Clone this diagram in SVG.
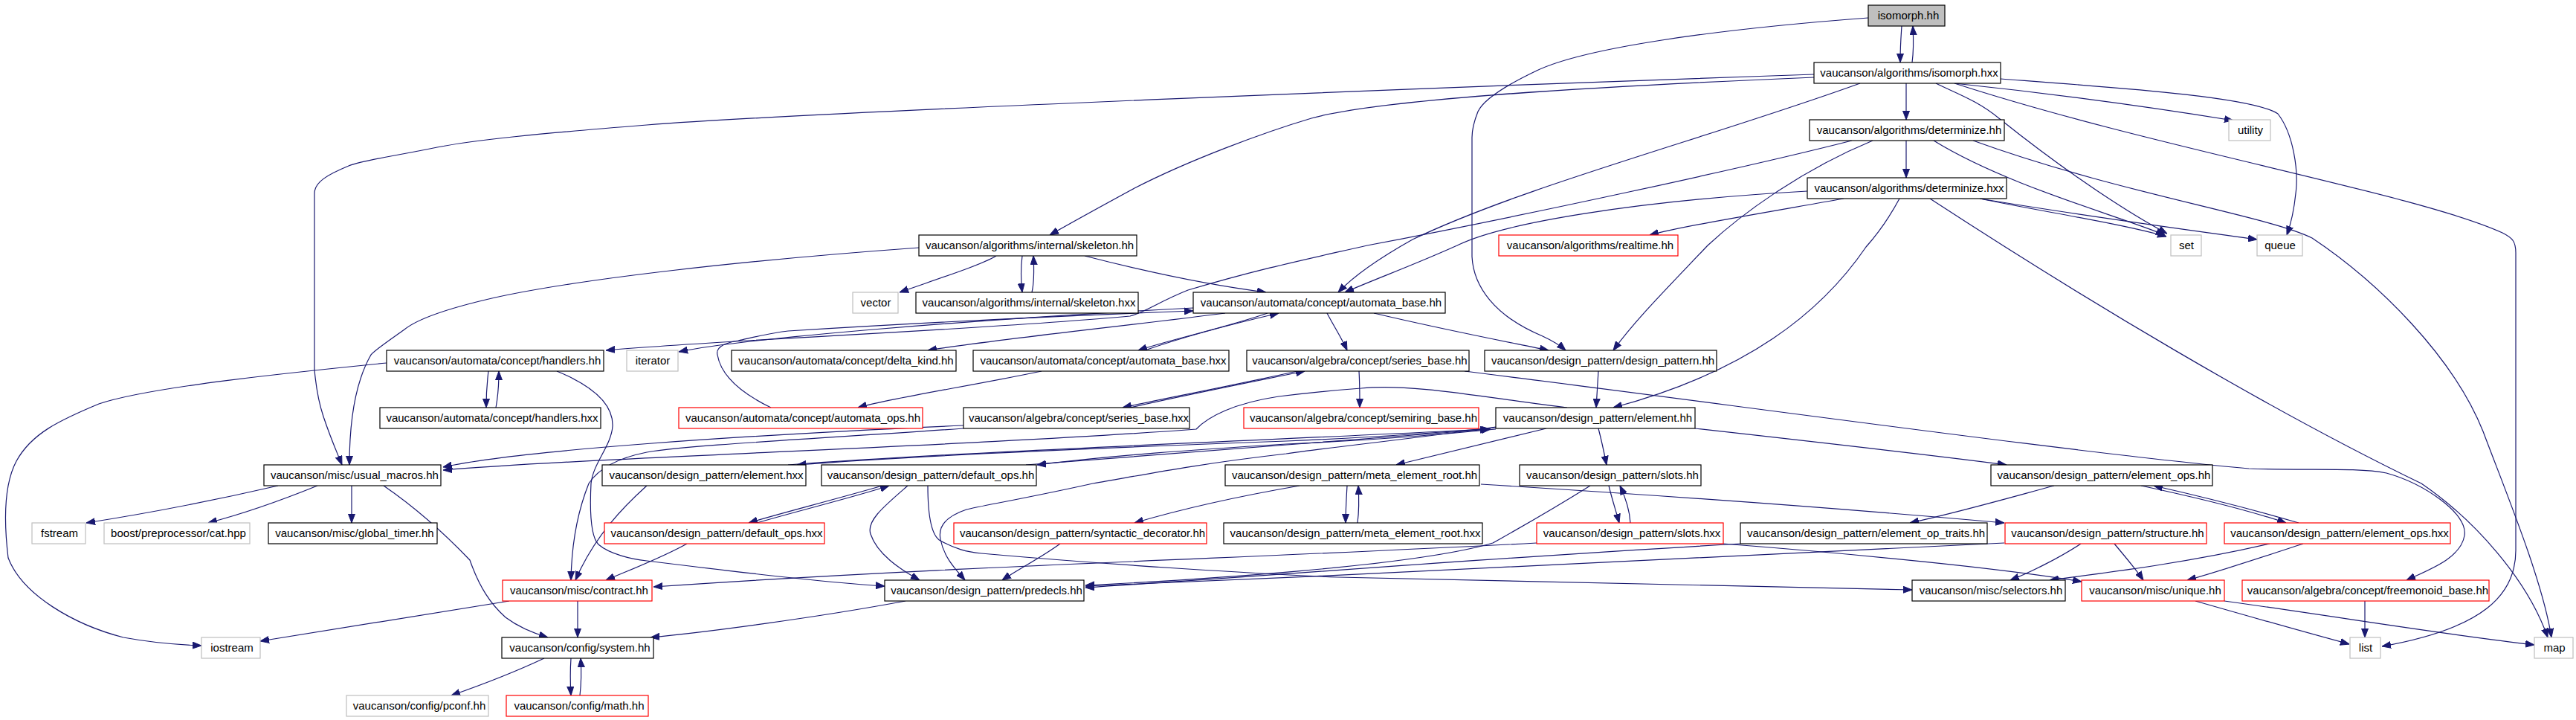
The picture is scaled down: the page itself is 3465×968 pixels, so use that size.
<svg xmlns="http://www.w3.org/2000/svg" width="3465" height="968" viewBox="0 0 3465 968">
<defs>
<marker id="a" markerWidth="12" markerHeight="10" refX="12" refY="5" orient="auto" markerUnits="userSpaceOnUse"><path d="M0,0.5 L12,5 L0,9.5 z" fill="#191970" stroke="#191970" stroke-width="1"/></marker>
<style>
rect{fill:#fff;stroke:#000;stroke-width:1.2}
.r rect{stroke:#ff0000}
.g rect{stroke:#bfbfbf}
.root rect{fill:#bfbfbf}
text{font-family:"Liberation Sans",Arial,sans-serif;font-size:15px;fill:#000;text-anchor:middle}
#edges path{fill:none;stroke:#191970;stroke-width:1.2;marker-end:url(#a)}
</style>
</defs>
<rect x="0" y="0" width="3465" height="968" style="fill:#fff;stroke:none"/>
<g id="edges">
<path d="M2558,35 C2557,50 2556,62 2556,84"/>
<path d="M2572,84 C2574,70 2574,55 2573,35"/>
<path d="M2513,24 C2300,40 2130,65 2067,95 C2025,115 1995,135 1988,150 C1982,165 1980,175 1980,185 L1980,345 C1982,385 2010,425 2075,452 C2088,458 2098,464 2106,471"/>
<path d="M2440,100 C2000,115 1100,150 870,168 C720,180 640,188 588,198 C530,210 490,215 469,223 C440,235 423,245 423,260 L423,497 C425,520 430,545 435,560 C445,590 452,605 460,625"/>
<path d="M2440,104 C2100,118 1850,135 1764,159 C1700,178 1600,215 1526,253 C1480,278 1440,300 1412,316"/>
<path d="M2502,112 C2300,185 2050,250 1900,322 C1850,350 1820,372 1800,393"/>
<path d="M2564,112 L2564,161"/>
<path d="M2629,112 C2800,130 2930,150 3004,162"/>
<path d="M2691,106 C2850,118 3030,130 3064,153 C3085,180 3092,230 3088,260 C3085,290 3080,305 3076,316"/>
<path d="M2604,112 C2630,125 2660,135 2690,160 C2790,240 2870,290 2915,314"/>
<path d="M2629,112 C2900,200 3250,260 3366,313 C3380,320 3384,325 3384,340 L3384,740 C3384,800 3340,845 3204,869"/>
<path d="M2564,189 L2564,239"/>
<path d="M2601,189 C2700,250 2850,290 2912,316"/>
<path d="M2654,189 C2850,260 3050,290 3110,320 C3200,380 3300,480 3340,580 C3370,660 3420,780 3432,857"/>
<path d="M2491,189 C2350,225 2050,290 1839,330 C1760,348 1700,360 1598,390 C1560,405 1540,420 1520,425 C1300,445 1000,455 815,471"/>
<path d="M2519,189 C2420,230 2340,290 2297,330 C2240,390 2200,430 2170,471"/>
<path d="M2480,267 C2350,290 2260,305 2219,316"/>
<path d="M2431,257 C2200,270 2020,300 1960,330 C1900,357 1850,375 1809,393"/>
<path d="M2555,267 C2540,295 2525,315 2510,332 C2450,420 2350,500 2170,548"/>
<path d="M2663,267 C2750,285 2850,300 2914,318"/>
<path d="M2663,267 C2800,290 2950,310 3036,322"/>
<path d="M2596,267 C2800,400 3050,550 3257,650 C3330,700 3400,780 3427,857"/>
<path d="M1236,333 C1000,350 780,375 666,400 C600,415 560,430 544,443 C520,460 505,470 499,477 C480,510 470,560 470,625"/>
<path d="M1340,344 C1320,356 1270,372 1210,393"/>
<path d="M1375,344 C1373,360 1373,375 1375,393"/>
<path d="M1388,393 C1391,380 1391,362 1390,344"/>
<path d="M1459,344 C1560,370 1640,385 1703,393"/>
<path d="M1705,421 C1650,440 1580,455 1531,471"/>
<path d="M1540,471 C1600,450 1660,435 1720,421"/>
<path d="M1648,421 C1500,440 1350,455 1248,471"/>
<path d="M1605,414 C1300,430 1000,455 913,473"/>
<path d="M1785,421 C1795,440 1805,455 1812,471"/>
<path d="M1848,421 C1950,445 2030,460 2083,471"/>
<path d="M1401,499 C1300,520 1200,535 1154,548"/>
<path d="M1037,548 C1000,530 970,507 965,477 C962,465 980,460 993,458 C1020,452 1040,447 1060,445 C1300,430 1500,422 1605,418"/>
<path d="M1745,499 C1650,520 1560,537 1510,548"/>
<path d="M1520,548 C1600,530 1700,510 1755,499"/>
<path d="M1828,499 C1829,515 1829,530 1829,548"/>
<path d="M1970,499 C2300,540 2800,610 3025,630 C3100,633 3170,628 3210,636 C3260,650 3320,690 3315,720 C3310,750 3270,765 3237,780"/>
<path d="M2150,499 C2149,515 2148,530 2147,548"/>
<path d="M2080,576 C2000,595 1930,612 1878,625"/>
<path d="M2150,576 C2155,595 2158,610 2161,625"/>
<path d="M2280,576 C2450,595 2600,612 2699,625"/>
<path d="M2012,575 C1900,585 1800,590 1730,593 C1400,605 1200,615 1072,625"/>
<path d="M1060,625 C1300,607 1700,592 2003,577"/>
<path d="M2012,577 C1900,588 1800,594 1730,597 C1600,605 1500,612 1395,625"/>
<path d="M1380,625 C1600,607 1800,593 2005,577"/>
<path d="M2012,574 C1900,590 1800,600 1730,610 C1600,625 1530,640 1470,650 C1380,670 1320,680 1300,685 C1270,695 1262,710 1265,725 C1270,750 1285,765 1298,780"/>
<path d="M2108,548 C2000,535 1900,515 1831,522 C1790,525 1760,528 1720,533 C1660,542 1625,560 1609,577 C1300,600 800,615 596,632"/>
<path d="M1296,572 C1000,585 700,605 596,628"/>
<path d="M1296,576 C1100,590 930,598 870,608 C830,616 805,630 792,650 C780,680 769,720 768,780"/>
<path d="M2763,653 C2700,670 2630,690 2569,703"/>
<path d="M1992,651 C2300,670 2550,690 2696,703"/>
<path d="M2880,653 C2960,670 3030,688 3075,703"/>
<path d="M3092,703 C3020,682 2950,665 2897,653"/>
<path d="M1812,653 C1811,670 1810,688 1810,703"/>
<path d="M1826,703 C1828,688 1828,670 1827,653"/>
<path d="M2164,653 C2168,670 2174,688 2178,703"/>
<path d="M2193,703 C2192,685 2186,668 2179,653"/>
<path d="M2139,653 C2080,690 2040,712 2008,730 C1900,762 1600,780 1460,787"/>
<path d="M2799,731 C2770,750 2730,770 2704,780"/>
<path d="M2844,731 C2860,750 2875,768 2883,780"/>
<path d="M3053,731 C2950,755 2850,768 2757,780"/>
<path d="M3098,731 C3040,750 2980,770 2942,780"/>
<path d="M2953,808 C3030,830 3100,850 3160,866"/>
<path d="M2992,808 C3150,830 3300,855 3409,867"/>
<path d="M3181,808 C3181,825 3181,840 3181,857"/>
<path d="M1187,653 C1110,675 1050,690 1007,703"/>
<path d="M1018,703 C1080,685 1150,668 1196,653"/>
<path d="M1221,653 C1190,680 1165,700 1171,718 C1180,745 1210,765 1237,780"/>
<path d="M1248,653 C1248,690 1252,720 1265,727 C1285,738 1300,742 1320,744 C1500,760 1700,772 1800,776 C2100,785 2400,790 2572,793"/>
<path d="M1426,731 C1400,750 1370,765 1348,780"/>
<path d="M1748,653 C1650,670 1570,690 1526,703"/>
<path d="M374,653 C300,670 200,690 116,703"/>
<path d="M427,653 C380,672 330,690 280,703"/>
<path d="M473,653 L473,703"/>
<path d="M516,653 C570,690 610,730 632,753 C645,790 660,812 680,830 C700,845 720,852 737,857"/>
<path d="M777,808 L777,857"/>
<path d="M685,808 C550,830 420,850 350,862"/>
<path d="M520,488 C400,500 200,520 133,543 C80,565 42,583 22,620 C6,650 5,700 11,750 C30,800 100,840 166,857 C210,865 240,867 271,868"/>
<path d="M657,499 C655,515 654,530 654,548"/>
<path d="M667,548 C670,532 671,515 671,499"/>
<path d="M749,499 C800,520 825,545 824,573 C822,600 798,622 795,650 C793,690 795,722 805,732 C820,745 850,752 870,754 C1000,770 1100,782 1190,788"/>
<path d="M870,653 C840,680 800,720 774,780"/>
<path d="M924,731 C890,750 850,765 815,780"/>
<path d="M2067,730 C1700,750 1300,760 879,789"/>
<path d="M1218,808 C1100,830 950,850 875,857"/>
<path d="M732,885 C700,900 650,920 607,935"/>
<path d="M768,885 C767,900 767,918 768,935"/>
<path d="M780,935 C782,918 782,900 781,885"/>
<path d="M2696,730 C2400,745 1900,770 1460,788"/>
<path d="M2341,731 C2000,750 1700,775 1460,790"/>
<path d="M2318,731 C2500,745 2700,765 2800,782"/>
</g>
<g id="isomorph_hh" class="root"><rect x="2513" y="7" width="103" height="28"/><text x="2567" y="26">isomorph.hh</text></g>
<g id="isomorph_hxx"><rect x="2440" y="84" width="251" height="28"/><text x="2568" y="103">vaucanson/algorithms/isomorph.hxx</text></g>
<g id="determinize_hh"><rect x="2434" y="161" width="262" height="28"/><text x="2568" y="180">vaucanson/algorithms/determinize.hh</text></g>
<g id="utility" class="g"><rect x="2998" y="161" width="56" height="28"/><text x="3027" y="180">utility</text></g>
<g id="determinize_hxx"><rect x="2431" y="239" width="268" height="28"/><text x="2568" y="258">vaucanson/algorithms/determinize.hxx</text></g>
<g id="skeleton_hh"><rect x="1236" y="316" width="293" height="28"/><text x="1385" y="335">vaucanson/algorithms/internal/skeleton.hh</text></g>
<g id="realtime_hh" class="r"><rect x="2016" y="316" width="241" height="28"/><text x="2139" y="335">vaucanson/algorithms/realtime.hh</text></g>
<g id="set" class="g"><rect x="2920" y="316" width="41" height="28"/><text x="2941" y="335">set</text></g>
<g id="queue" class="g"><rect x="3036" y="316" width="61" height="28"/><text x="3067" y="335">queue</text></g>
<g id="vector" class="g"><rect x="1147" y="393" width="61" height="28"/><text x="1178" y="412">vector</text></g>
<g id="skeleton_hxx"><rect x="1232" y="393" width="299" height="28"/><text x="1384" y="412">vaucanson/algorithms/internal/skeleton.hxx</text></g>
<g id="automata_base_hh"><rect x="1605" y="393" width="339" height="28"/><text x="1777" y="412">vaucanson/automata/concept/automata_base.hh</text></g>
<g id="handlers_hh"><rect x="520" y="471" width="292" height="28"/><text x="669" y="490">vaucanson/automata/concept/handlers.hh</text></g>
<g id="iterator" class="g"><rect x="843" y="471" width="69" height="28"/><text x="878" y="490">iterator</text></g>
<g id="delta_kind_hh"><rect x="984" y="471" width="302" height="28"/><text x="1138" y="490">vaucanson/automata/concept/delta_kind.hh</text></g>
<g id="automata_base_hxx"><rect x="1309" y="471" width="344" height="28"/><text x="1484" y="490">vaucanson/automata/concept/automata_base.hxx</text></g>
<g id="series_base_hh"><rect x="1677" y="471" width="299" height="28"/><text x="1829" y="490">vaucanson/algebra/concept/series_base.hh</text></g>
<g id="design_pattern_hh"><rect x="1997" y="471" width="312" height="28"/><text x="2156" y="490">vaucanson/design_pattern/design_pattern.hh</text></g>
<g id="handlers_hxx"><rect x="511" y="548" width="297" height="28"/><text x="662" y="567">vaucanson/automata/concept/handlers.hxx</text></g>
<g id="automata_ops_hh" class="r"><rect x="913" y="548" width="328" height="28"/><text x="1080" y="567">vaucanson/automata/concept/automata_ops.hh</text></g>
<g id="series_base_hxx"><rect x="1296" y="548" width="304" height="28"/><text x="1451" y="567">vaucanson/algebra/concept/series_base.hxx</text></g>
<g id="semiring_base_hh" class="r"><rect x="1673" y="548" width="316" height="28"/><text x="1834" y="567">vaucanson/algebra/concept/semiring_base.hh</text></g>
<g id="element_hh"><rect x="2012" y="548" width="268" height="28"/><text x="2149" y="567">vaucanson/design_pattern/element.hh</text></g>
<g id="usual_macros_hh"><rect x="355" y="625" width="238" height="28"/><text x="477" y="644">vaucanson/misc/usual_macros.hh</text></g>
<g id="element_hxx"><rect x="810" y="625" width="274" height="28"/><text x="950" y="644">vaucanson/design_pattern/element.hxx</text></g>
<g id="default_ops_hh"><rect x="1105" y="625" width="289" height="28"/><text x="1252" y="644">vaucanson/design_pattern/default_ops.hh</text></g>
<g id="meta_element_root_hh"><rect x="1648" y="625" width="342" height="28"/><text x="1822" y="644">vaucanson/design_pattern/meta_element_root.hh</text></g>
<g id="slots_hh"><rect x="2044" y="625" width="244" height="28"/><text x="2169" y="644">vaucanson/design_pattern/slots.hh</text></g>
<g id="element_ops_hh"><rect x="2678" y="625" width="298" height="28"/><text x="2830" y="644">vaucanson/design_pattern/element_ops.hh</text></g>
<g id="fstream" class="g"><rect x="43" y="703" width="72" height="28"/><text x="80" y="722">fstream</text></g>
<g id="cat_hpp" class="g"><rect x="140" y="703" width="196" height="28"/><text x="240" y="722">boost/preprocessor/cat.hpp</text></g>
<g id="global_timer_hh"><rect x="361" y="703" width="227" height="28"/><text x="477" y="722">vaucanson/misc/global_timer.hh</text></g>
<g id="default_ops_hxx" class="r"><rect x="813" y="703" width="296" height="28"/><text x="964" y="722">vaucanson/design_pattern/default_ops.hxx</text></g>
<g id="syntactic_decorator_hh" class="r"><rect x="1283" y="703" width="340" height="28"/><text x="1456" y="722">vaucanson/design_pattern/syntactic_decorator.hh</text></g>
<g id="meta_element_root_hxx"><rect x="1646" y="703" width="348" height="28"/><text x="1823" y="722">vaucanson/design_pattern/meta_element_root.hxx</text></g>
<g id="slots_hxx" class="r"><rect x="2067" y="703" width="251" height="28"/><text x="2195" y="722">vaucanson/design_pattern/slots.hxx</text></g>
<g id="element_op_traits_hh"><rect x="2341" y="703" width="332" height="28"/><text x="2510" y="722">vaucanson/design_pattern/element_op_traits.hh</text></g>
<g id="structure_hh" class="r"><rect x="2697" y="703" width="271" height="28"/><text x="2835" y="722">vaucanson/design_pattern/structure.hh</text></g>
<g id="element_ops_hxx" class="r"><rect x="2992" y="703" width="304" height="28"/><text x="3147" y="722">vaucanson/design_pattern/element_ops.hxx</text></g>
<g id="contract_hh" class="r"><rect x="676" y="780" width="201" height="28"/><text x="779" y="799">vaucanson/misc/contract.hh</text></g>
<g id="predecls_hh"><rect x="1190" y="780" width="268" height="28"/><text x="1327" y="799">vaucanson/design_pattern/predecls.hh</text></g>
<g id="selectors_hh"><rect x="2572" y="780" width="206" height="28"/><text x="2678" y="799">vaucanson/misc/selectors.hh</text></g>
<g id="unique_hh" class="r"><rect x="2800" y="780" width="192" height="28"/><text x="2899" y="799">vaucanson/misc/unique.hh</text></g>
<g id="freemonoid_base_hh" class="r"><rect x="3016" y="780" width="332" height="28"/><text x="3185" y="799">vaucanson/algebra/concept/freemonoid_base.hh</text></g>
<g id="iostream" class="g"><rect x="271" y="857" width="79" height="28"/><text x="312" y="876">iostream</text></g>
<g id="system_hh"><rect x="675" y="857" width="204" height="28"/><text x="780" y="876">vaucanson/config/system.hh</text></g>
<g id="list" class="g"><rect x="3161" y="857" width="41" height="28"/><text x="3182" y="876">list</text></g>
<g id="map" class="g"><rect x="3409" y="857" width="52" height="28"/><text x="3436" y="876">map</text></g>
<g id="pconf_hh" class="g"><rect x="466" y="935" width="191" height="28"/><text x="564" y="954">vaucanson/config/pconf.hh</text></g>
<g id="math_hh" class="r"><rect x="681" y="935" width="191" height="28"/><text x="779" y="954">vaucanson/config/math.hh</text></g>
</svg>
